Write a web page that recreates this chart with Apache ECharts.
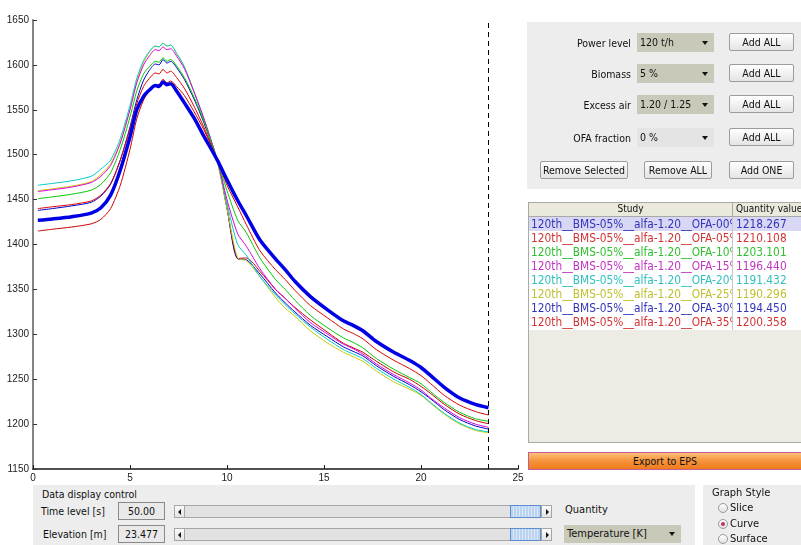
<!DOCTYPE html>
<html><head><meta charset="utf-8">
<script src="https://cdn.jsdelivr.net/npm/echarts@6/dist/echarts.min.js"></script>
<style>
body{margin:0;background:#fff;width:801px;height:545px;overflow:hidden;position:relative;font-family:"DejaVu Sans Condensed","DejaVu Sans",sans-serif;color:#111;}
#chart{position:absolute;left:0;top:0;width:801px;height:545px;}
.lbl{position:absolute;font-size:10.5px;white-space:nowrap;line-height:12px;}
.rl{text-align:right;}
.panel{position:absolute;background:#ededed;}
.btn{position:absolute;box-sizing:border-box;border:1px solid #9c9c9c;border-radius:2px;background:linear-gradient(#ffffff,#e4e4e4);font-size:10.5px;text-align:center;white-space:nowrap;}
.dd{position:absolute;box-sizing:border-box;background:#c9c9ba;font-size:10.5px;padding-left:3px;white-space:nowrap;}
.dd:after{content:"";position:absolute;right:6px;top:50%;margin-top:-2px;border-left:3.5px solid transparent;border-right:3.5px solid transparent;border-top:4px solid #111;}
.box{position:absolute;box-sizing:border-box;border:1px solid #8a8a8a;background:#e9e9e9;font-size:10.5px;text-align:center;}
.track{position:absolute;box-sizing:border-box;border:1px solid #a6a6a6;background:#e2e2e2;}
.arr{position:absolute;box-sizing:border-box;border:1px solid #a6a6a6;background:linear-gradient(#fbfbfb,#e4e4e4);}
.thumb{position:absolute;box-sizing:border-box;border:1px solid #5d8fd0;background:repeating-linear-gradient(90deg,#b9d3f0 0 2px,#dbe8f8 2px 3px);}
.radio{position:absolute;box-sizing:border-box;width:10px;height:10px;border-radius:50%;border:1px solid #9a9a9a;background:linear-gradient(#ffffff,#e0e0e0);}
.cell{position:absolute;white-space:nowrap;overflow:hidden;font-size:11.8px;line-height:14px;height:14px;}
</style></head><body>
<div id="chart"></div>
<div id="gui"></div>
<script>
// ---- data ----
var elevation = [0.25,1,2,3,3.5,4,4.5,5,5.35,5.7,6,6.3,6.5,6.7,6.9,7.1,7.4,7.8,8.3,8.8,9.5,10,10.55,11,11.7,12.5,13,13.5,14.3,15.2,16,16.5,17,17.7,18.6,19.4,20,20.5,21.2,22,22.8,23.477];
var ofa00 = [1427,1428.5,1431,1435,1441,1455,1483,1520,1550,1565,1572,1577,1576,1581,1578,1579,1571,1558,1541,1521,1494,1472,1449,1432,1405,1384,1372,1359,1342,1327,1315,1310,1304,1292,1280,1271,1263,1254,1241,1229,1222,1218.267];
var ofa05 = [1440,1442,1444.5,1448.5,1455,1468,1494,1529,1557,1576,1585,1591,1590,1595,1591,1593,1586,1574,1554,1531,1494,1466,1442,1422,1393,1372,1361,1349,1332,1318,1306,1301,1295,1283,1271,1262,1254,1245,1232,1221,1214,1210.108];
var ofa10 = [1451,1453,1456,1460.5,1467,1480,1506,1542,1571,1590,1598,1604,1603,1608,1604,1606,1599,1586,1564,1538,1494,1460,1427,1413,1385,1361,1350,1338,1321,1307,1296,1291,1285,1273,1261,1252,1245,1236,1224,1213,1206,1203.101];
var ofa15 = [1459,1461,1464,1469,1476,1488,1513,1550,1580,1600,1610,1617,1616,1620,1617,1618,1610,1596,1570,1541,1494,1450,1412,1398,1373,1350,1340,1329,1313,1300,1289,1284,1278,1267,1255,1246,1238,1229,1218,1207,1200,1196.440];
var ofa20 = [1466,1468,1471,1476,1484,1494,1518,1555,1585,1605,1615,1621,1620,1624,1621,1622,1613,1598,1570,1540,1494,1446,1400,1388,1364,1344,1333,1323,1308,1294,1283,1278,1273,1262,1250,1241,1233,1224,1212,1201,1194,1191.432];
var ofa25 = [1460,1462,1465,1470,1478,1490,1514,1551,1582,1603,1614,1621,1620,1624.5,1621,1622,1613,1598,1570,1540,1492,1440,1385,1382,1364,1341,1329,1320,1304,1290,1280,1275,1270,1259,1247,1239,1232,1223,1211,1200,1193,1190.296];
var ofa30 = [1438,1440,1443,1447,1454,1467,1494,1531,1561,1583,1594,1601,1600,1606,1602,1604,1597,1584,1562,1536,1493,1440,1384,1383,1367,1346,1335,1325,1310,1297,1286,1281,1276,1265,1253,1244,1236,1228,1216,1205,1198,1194.450];
var ofa35 = [1415,1417,1419.5,1423,1428,1440,1466,1506,1540,1561,1571,1578,1578,1584,1580,1582,1576,1566,1548,1528,1494,1441,1384.5,1385,1370,1350,1340,1330,1316,1302,1290,1285,1280,1270,1258,1250,1242,1234,1222,1211,1204,1200.358];
var studies = ["120th__BMS-05%__alfa-1.20__OFA-00%","120th__BMS-05%__alfa-1.20__OFA-05%","120th__BMS-05%__alfa-1.20__OFA-10%","120th__BMS-05%__alfa-1.20__OFA-15%","120th__BMS-05%__alfa-1.20__OFA-20%","120th__BMS-05%__alfa-1.20__OFA-25%","120th__BMS-05%__alfa-1.20__OFA-30%","120th__BMS-05%__alfa-1.20__OFA-35%"];
var quantityValues = ["1218.267","1210.108","1203.101","1196.440","1191.432","1190.296","1194.450","1200.358"];
var xMin = 0, xMax = 25, xStep = 5;
var yMin = 1150, yMax = 1650, yStep = 50;
var currentElevation = 23.477;

// ---- styles ----
var lineColors = ['#0000e6','#dd0000','#00c800','#dd00dd','#00cccc','#cccc00','#0000cc','#c80000'];
var textColors = ['#3333bb','#d33333','#2fbf2f','#c233c2','#2fbfbf','#bfbf2f','#3333bb','#d33333'];
var widths = [3.5,1,1,1,1,1,1,1];

var seriesVals = [ofa00, ofa05, ofa10, ofa15, ofa20, ofa25, ofa30, ofa35];
function pairs(v){ return elevation.map(function(x,i){ return [x, v[i]]; }); }

var series = [];
for (var k = seriesVals.length - 1; k >= 0; k--) {
  var s = {
    name: studies[k], type: 'line', data: pairs(seriesVals[k]),
    showSymbol: false, smooth: 0.25, z: k === 0 ? 5 : 2,
    lineStyle: { color: lineColors[k], width: widths[k] },
    silent: true
  };
  if (k === 7) {
    s.markLine = { silent: true, symbol: ['none','none'], label: { show: false },
      lineStyle: { type: [5,4], color: '#000', width: 1 },
      data: [{ xAxis: currentElevation }] };
  }
  series.push(s);
}

var chart = echarts.init(document.getElementById('chart'), null, { renderer: 'canvas' });
chart.setOption({
  animation: false,
  backgroundColor: 'transparent',
  grid: { left: 33, top: 20, width: 485, height: 449 },
  xAxis: {
    type: 'value', min: xMin, max: xMax, interval: xStep,
    axisLine: { show: true, lineStyle: { color: '#1a1a1a', width: 1.5 } },
    axisTick: { show: true, inside: true, length: 4, lineStyle: { color: '#1a1a1a' } },
    axisLabel: { color: '#222', fontSize: 10, fontFamily: 'Liberation Sans', margin: 4, formatter: function (v) { return String(v); } },
    splitLine: { show: false }
  },
  yAxis: {
    type: 'value', min: yMin, max: yMax, interval: yStep,
    axisLine: { show: true, lineStyle: { color: '#777', width: 1.8 } },
    axisTick: { show: true, inside: true, length: 4, lineStyle: { color: '#333' } },
    axisLabel: { color: '#222', fontSize: 10, fontFamily: 'Liberation Sans', margin: 4, formatter: function (v) { return String(v); } },
    splitLine: { show: false }
  },
  series: series
});

// ---- GUI ----
var g = [];
g.push('<div class="panel" style="left:527px;top:22px;width:274px;height:167px"></div>');
var rowsY = [33, 64, 95, 128];
var rowLabels = ['Power level','Biomass','Excess air','OFA fraction'];
var rowValues = ['120 t/h','5 %','1.20 / 1.25','0 %'];
for (var i = 0; i < 4; i++) {
  var y = rowsY[i];
  g.push('<div class="lbl rl" style="left:531px;width:100px;top:' + (y + 4) + 'px">' + rowLabels[i] + '</div>');
  g.push('<div class="dd" style="left:637px;width:77px;top:' + y + 'px;height:19px;line-height:19px;' + (i === 3 ? 'background:#e4e4e4;' : '') + '">' + rowValues[i] + '</div>');
  g.push('<div class="btn" style="left:729px;width:65px;top:' + y + 'px;height:18px;line-height:16px">Add ALL</div>');
}
g.push('<div class="btn" style="left:540px;width:88px;top:161px;height:18px;line-height:16px">Remove Selected</div>');
g.push('<div class="btn" style="left:644px;width:68px;top:161px;height:18px;line-height:16px">Remove ALL</div>');
g.push('<div class="btn" style="left:729px;width:65px;top:161px;height:18px;line-height:16px">Add ONE</div>');

// table
g.push('<div style="position:absolute;left:528px;top:202px;width:273px;height:241px;box-sizing:border-box;border:1px solid #a9a9a9;border-right:none;background:#ecebe4"></div>');
g.push('<div style="position:absolute;left:529px;top:203px;width:272px;height:13px;background:#ebe9dc;border-bottom:1px solid #a9a9a9"></div>');
g.push('<div class="lbl" style="left:529px;width:203px;top:203px;text-align:center;font-size:10px">Study</div>');
g.push('<div class="lbl" style="left:736px;top:203px;font-size:10px">Quantity value</div>');
g.push('<div style="position:absolute;left:732px;top:203px;width:1px;height:13px;background:#a9a9a9"></div>');
g.push('<div style="position:absolute;left:529px;top:217px;width:272px;height:113px;background:#fff"></div>');
for (var r = 0; r < studies.length; r++) {
  var ty = 216.5 + r * 14.14;
  if (r === 0) g.push('<div style="position:absolute;left:529px;top:' + ty + 'px;width:272px;height:14px;background:#d8d8f4"></div>');
  g.push('<div class="cell" style="left:531px;width:201px;top:' + ty + 'px;color:' + textColors[r] + '">' + studies[r] + '</div>');
  g.push('<div class="cell" style="left:736px;width:65px;top:' + ty + 'px;color:' + textColors[r] + '">' + quantityValues[r] + '</div>');
}
g.push('<div style="position:absolute;left:732px;top:217px;width:1px;height:113px;background:#c8c8c8"></div>');

// export
g.push('<div style="position:absolute;left:528px;top:452px;width:273px;height:18px;box-sizing:border-box;border:1px solid #c0609a;border-right:none;background:linear-gradient(#fbc07a,#f5923a 50%,#f07c1c);font-size:10.5px;text-align:center;line-height:16px">Export to EPS</div>');

// bottom panel
g.push('<div class="panel" style="left:33px;top:485px;width:662px;height:60px"></div>');
g.push('<div class="lbl" style="left:42px;top:488px">Data display control</div>');
g.push('<div class="lbl" style="left:41px;top:505px">Time level [s]</div>');
g.push('<div class="lbl" style="left:43px;top:528px">Elevation [m]</div>');
g.push('<div class="box" style="left:118px;top:502px;width:47px;height:18px;line-height:16px">50.00</div>');
g.push('<div class="box" style="left:118px;top:525px;width:47px;height:18px;line-height:16px">' + currentElevation.toFixed(3) + '</div>');
[505, 528].forEach(function (sy) {
  g.push('<div class="track" style="left:174px;top:' + sy + 'px;width:378px;height:13px"></div>');
  g.push('<div class="arr" style="left:174px;top:' + sy + 'px;width:11px;height:13px"><div style="position:absolute;left:3px;top:3px;border-top:3px solid transparent;border-bottom:3px solid transparent;border-right:3px solid #111"></div></div>');
  g.push('<div class="thumb" style="left:510px;top:' + sy + 'px;width:31px;height:13px"></div>');
  g.push('<div class="arr" style="left:541px;top:' + sy + 'px;width:11px;height:13px"><div style="position:absolute;left:4px;top:3px;border-top:3px solid transparent;border-bottom:3px solid transparent;border-left:3px solid #111"></div></div>');
});
g.push('<div class="lbl" style="left:565px;top:504px;font-size:11px">Quantity</div>');
g.push('<div class="dd" style="left:564px;top:525px;width:117px;height:18px;line-height:18px;font-size:11px">Temperature [K]</div>');

// graph style
g.push('<div class="panel" style="left:703px;top:485px;width:98px;height:60px"></div>');
g.push('<div class="lbl" style="left:712px;top:487px;font-size:11px">Graph Style</div>');
var styles = ['Slice','Curve','Surface'];
for (var q = 0; q < 3; q++) {
  var cy = 508 + q * 15.5;
  g.push('<div class="radio" style="left:718px;top:' + (cy - 5) + 'px">' + (q === 1 ? '<div style="position:absolute;left:2px;top:2px;width:4px;height:4px;border-radius:50%;background:#c2306a"></div>' : '') + '</div>');
  g.push('<div class="lbl" style="left:730px;top:' + (cy - 6) + 'px;font-size:11px">' + styles[q] + '</div>');
}
document.getElementById('gui').innerHTML = g.join('');
</script>
</body></html>
